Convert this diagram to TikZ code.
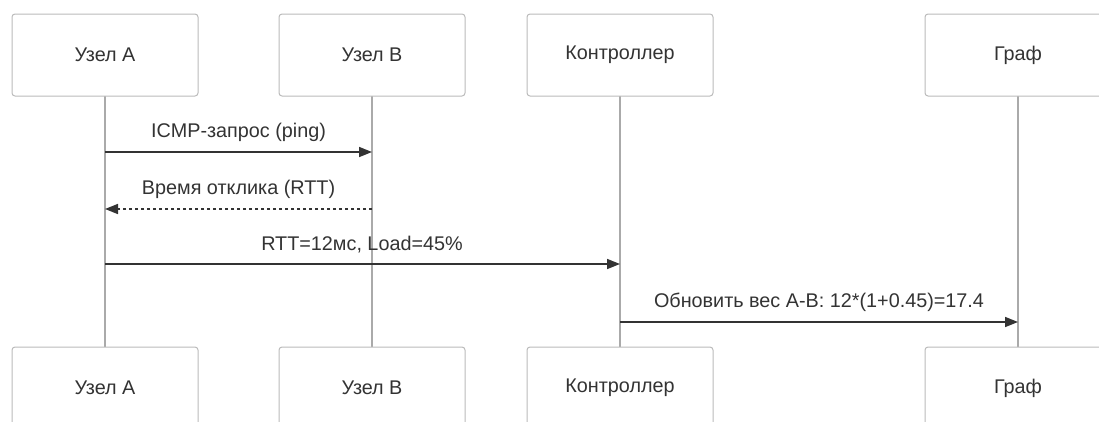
\documentclass[tikz,border=0pt]{standalone}
\usepackage{fontspec}
\setmainfont{Liberation Sans}
\usetikzlibrary{arrows.meta}
\definecolor{boxgray}{HTML}{BBBBBB}
\definecolor{lifegray}{HTML}{AAAAAA}
\definecolor{txt}{HTML}{333333}
\definecolor{linec}{HTML}{333333}
\begin{document}
\begin{tikzpicture}[x=1pt,y=-1pt,
  actor/.style={draw=boxgray, line width=1pt, rounded corners=3pt, fill=white,
    minimum width=186pt, minimum height=82pt, inner sep=0pt,
    font=\fontsize{19.8}{24}\selectfont, text=txt},
  life/.style={draw=lifegray, line width=1.5pt},
  msg/.style={draw=linec, line width=1.6pt, -{Triangle[length=13pt,width=10pt]}},
  reply/.style={msg, dash pattern=on 3pt off 3pt},
  lbl/.style={font=\fontsize{19.8}{24}\selectfont, text=txt, inner sep=0pt}
]
\clip (0,0) rectangle (1099,421);
\fill[white] (0,0) rectangle (1099,421);

% lifelines first (behind boxes)
\coordinate (la1) at (105,96);  \coordinate (la2) at (105,347);
\coordinate (lb1) at (372,96);  \coordinate (lb2) at (372,347);
\coordinate (lc1) at (620,96);  \coordinate (lc2) at (620,347);
\coordinate (lg1) at (1018,96); \coordinate (lg2) at (1018,347);
\draw[life] (la1) -- (la2);
\draw[life] (lb1) -- (lb2);
\draw[life] (lc1) -- (lc2);
\draw[life] (lg1) -- (lg2);

% top actors
\node[actor] (a1) at (105,55) {Узел A};
\node[actor] (b1) at (372,55) {Узел B};
\node[actor] (c1) at (620,55) {Контроллер};
\node[actor] (g1) at (1018,55) {Граф};

% bottom actors
\node[actor] (a2) at (105,388) {Узел A};
\node[actor] (b2) at (372,388) {Узел B};
\node[actor] (c2) at (620,388) {Контроллер};
\node[actor] (g2) at (1018,388) {Граф};

% messages
\coordinate (m1s) at (105,152); \coordinate (m1e) at (372,152);
\draw[msg] (m1s) -- (m1e);
\node[lbl] (t1) at (238.5,132) {ICMP-запрос (ping)};

\coordinate (m2s) at (372,209); \coordinate (m2e) at (105,209);
\draw[reply] (m2s) -- (m2e);
\node[lbl] (t2) at (238.5,189) {Время отклика (RTT)};

\coordinate (m3s) at (105,264); \coordinate (m3e) at (620,264);
\draw[msg] (m3s) -- (m3e);
\node[lbl] (t3) at (362,245) {RTT=12мс, Load=45\%};

\coordinate (m4s) at (620,322); \coordinate (m4e) at (1018,322);
\draw[msg] (m4s) -- (m4e);
\node[lbl] (t4) at (819,302) {Обновить вес A-B: 12*(1+0.45)=17.4};
\end{tikzpicture}
\end{document}
